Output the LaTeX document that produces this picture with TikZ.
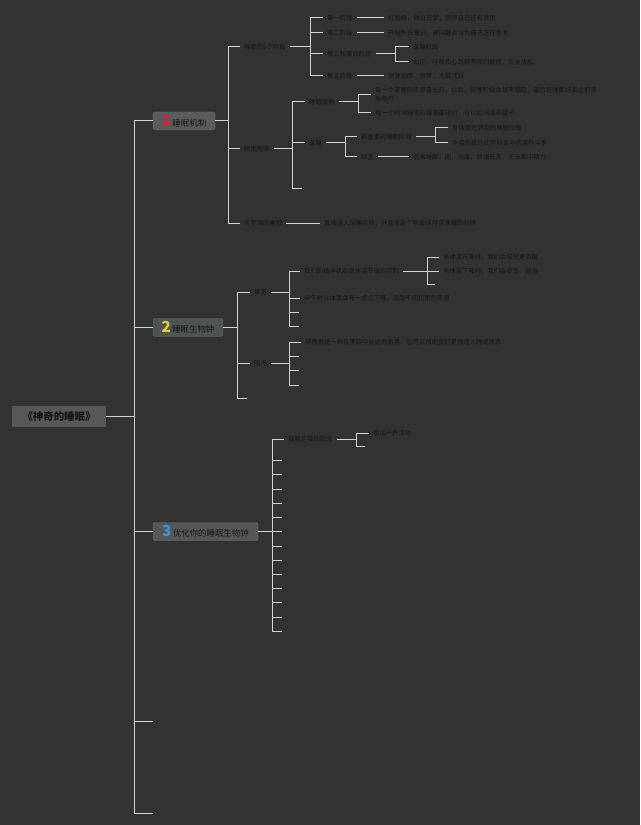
\documentclass[tikz,border=0pt]{standalone}
\usepackage{fontspec}
\newfontfamily\cjk{Noto Sans CJK SC}
\definecolor{bg}{HTML}{323232}
\definecolor{linecol}{HTML}{D2D2D2}
\definecolor{txt}{HTML}{161616}
\definecolor{boxa}{HTML}{5B5B5B}
\definecolor{boxb}{HTML}{4E5550}
\definecolor{boxc}{HTML}{575757}
\definecolor{numred}{HTML}{D8213A}
\definecolor{numyel}{HTML}{E9C53C}
\definecolor{numblu}{HTML}{3A96D8}
\newcommand{\numfont}{\cjk\bfseries\fontsize{13}{13}\selectfont}
\tikzset{
  link/.style={draw=linecol, line width=0.85pt},
  leaf/.style={anchor=west, inner xsep=3.4pt, inner ysep=1.5pt, xshift=-0.85pt, text=txt,
    font=\cjk\fontsize{5.4}{7.6}\selectfont},
  stub/.style={inner sep=0pt, minimum size=0pt},
  topic/.style={draw=boxa!85!white, rounded corners=1.5pt, inner sep=0pt, minimum height=0.54cm,
    text=txt, font=\cjk\fontsize{7.2}{8}\selectfont},
}
\newcommand{\fork}[3]{%
  \coordinate (fj) at (#2,0);
  \draw[link] (#1.east) -- (fj |- #1.east);
  \foreach \c in {#3} \draw[link] (fj |- #1.east) |- (\c.west);}
\begin{document}
\begin{tikzpicture}[x=0.03cm, y=-0.03cm]
  \useasboundingbox (0,0) rectangle (640,825);
  \fill[bg] (0,0) rectangle (640,825);

  % main topics
  \node[topic, fill=boxc, draw=none, rounded corners=0pt, minimum width=2.82cm, minimum height=0.63cm,
    font=\cjk\bfseries\fontsize{8.9}{10}\selectfont] (root) at (59,416.5) {《神奇的睡眠》};
  \node[topic, fill=boxa, minimum width=1.86cm] (m1) at (184,121)
    {{\numfont\color{numred}1}\,睡眠机制};
  \node[topic, fill=boxb, draw=boxb!85!white, minimum width=2.1cm] (m2) at (188,327.5)
    {{\numfont\color{numyel}2}\,睡眠生物钟};
  \node[topic, fill=boxc, minimum width=3.15cm] (m3) at (205.5,531.5)
    {{\numfont\color{numblu}3}\,优化你的睡眠生物钟};
  \node[stub] (s1) at (153,721) {};
  \node[stub] (s2) at (153,813) {};

  % 1 sleep mechanism
  \node[leaf] (a1) at (241,47) {睡眠的5个阶段};
  \node[leaf] (a2) at (241,149) {睡眠规律};
  \node[leaf] (a3) at (241,223) {无梦境的睡眠};
  \node[leaf] (b1) at (324,18) {第一阶段};
  \node[leaf] (b2) at (324,33) {第二阶段};
  \node[leaf] (b3) at (324,54) {第三和第四阶段};
  \node[leaf] (b4) at (324,76) {第五阶段};
  \node[leaf] (c1) at (385,18) {打瞌睡，做白日梦，觉得自己还有意识};
  \node[leaf] (c2) at (385,33) {开始失去意识，被叫醒会认为自己正在思考};
  \node[leaf] (d1) at (410,47) {深睡阶段};
  \node[leaf] (d2) at (410,62) {血压、呼吸和心跳频率降到最低，完全放松};
  \node[leaf] (c4) at (385,76) {快速动眼，做梦，大脑活跃};
  \node[leaf] (e1) at (306,102) {睡眠周期};
  \node[leaf] (e2) at (306,143) {深睡};
  \node[stub] (e3) at (302,189) {};
  \node[leaf, align=left] (f1) at (372,95)
    {每一个深睡阶段是最长的，以后，深睡阶段会越来越短，最后在睡眠结束之前消\\失殆尽};
  \node[leaf] (f2) at (372,113) {每一个REM睡眠阶段是最短的，在以后则越来越长};
  \node[leaf] (g1) at (358,137) {最重要的睡眠阶段};
  \node[leaf] (g2) at (358,157) {缺乏};
  \node[leaf] (h1) at (449,128) {身体首先满足的睡眠阶段};
  \node[leaf] (h2) at (449,143) {免疫系统在此阶段会与病菌作斗争};
  \node[leaf] (h3) at (410,157) {很难睡醒，困，头痛，情绪低落，无法集中精力};
  \node[leaf] (h4) at (321,223) {直接进入深睡阶段，并且在这个阶段保持至清醒的时候};

  % 2 body clock
  \node[leaf] (i1) at (251,292) {体温};
  \node[leaf] (i2) at (251,363) {阳光};
  \node[stub] (i3) at (247,398) {};
  \node[leaf] (j1) at (301,271) {我们的精神状态受体温节律的控制};
  \node[leaf] (j2) at (301,298) {中午时分体温会有一点点下降，这是午间犯困的来源};
  \node[stub] (j3) at (299,312) {};
  \node[stub] (j4) at (299,326) {};
  \node[leaf] (k1) at (440,257) {当体温升高时，我们会感觉更清醒};
  \node[leaf] (k2) at (440,271) {当体温下降时，我们会疲乏、困倦};
  \node[stub] (k3) at (435,284) {};
  \node[leaf] (l1) at (302,342) {褪黑素是一种在黑暗中分泌的激素，它可以帮助我们更快进入睡眠状态};
  \node[stub] (l2) at (299,356) {};
  \node[stub] (l3) at (299,370) {};
  \node[stub] (l4) at (299,385) {};

  % 3 optimise
  \node[leaf] (n1) at (285,439) {摄取足够的阳光};
  \foreach \y [count=\i] in {460.5,474.5,489,503,517,531,546,560,574,588,602,617,631}
    \node[stub] (o\i) at (282,\y) {};
  \node[leaf] (p1) at (370,433) {增加户外活动};
  \node[stub] (p2) at (365,446) {};

  % connectors
  \fork{root}{134}{m1,m2,m3,s1,s2}
  \fork{m1}{228}{a1,a2,a3}
  \fork{a1}{310}{b1,b2,b3,b4}
  \fork{b3}{395}{d1,d2}
  \fork{a2}{292}{e1,e2,e3}
  \fork{e1}{358}{f1,f2}
  \fork{e2}{345}{g1,g2}
  \fork{g1}{435}{h1,h2}
  \fork{m2}{237}{i1,i2,i3}
  \fork{i1}{289}{j1,j2,j3,j4}
  \fork{j1}{427}{k1,k2,k3}
  \fork{i2}{289}{l1,l2,l3,l4}
  \fork{m3}{272}{n1,o1,o2,o3,o4,o5,o6,o7,o8,o9,o10,o11,o12,o13}
  \fork{n1}{356}{p1,p2}
  \draw[link] (b1.east) -- (c1.west);
  \draw[link] (b2.east) -- (c2.west);
  \draw[link] (b4.east) -- (c4.west);
  \draw[link] (g2.east) -- (h3.west);
  \draw[link] (a3.east) -- (h4.west);
\end{tikzpicture}
\end{document}
